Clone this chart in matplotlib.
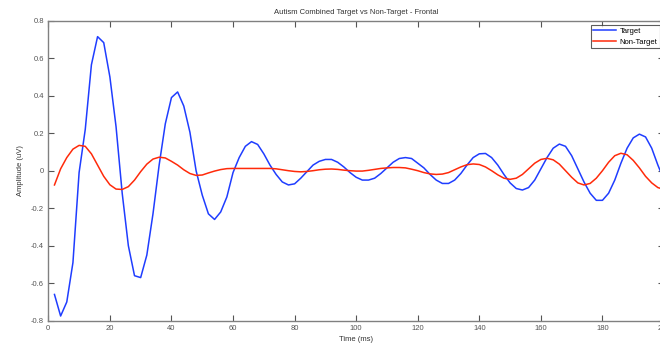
import matplotlib
matplotlib.use("Agg")
import matplotlib.pyplot as plt
from matplotlib.ticker import FuncFormatter

# time axis, one sample every 2 ms
time_ms = list(range(2, 202, 2))

target = [
    -0.66, -0.775, -0.70, -0.49, -0.01, 0.22, 0.565, 0.715, 0.683, 0.50,
    0.235, -0.12, -0.40, -0.56, -0.57, -0.45, -0.23, 0.03, 0.25, 0.39,
    0.42, 0.345, 0.205, 0.0, -0.13, -0.23, -0.26, -0.22, -0.14, -0.01,
    0.07, 0.13, 0.155, 0.14, 0.09, 0.03, -0.02, -0.06, -0.076, -0.07,
    -0.04, -0.005, 0.03, 0.05, 0.06, 0.06, 0.045, 0.02, -0.01, -0.035,
    -0.05, -0.05, -0.04, -0.015, 0.015, 0.045, 0.065, 0.07, 0.065, 0.04,
    0.015, -0.02, -0.05, -0.068, -0.068, -0.05, -0.015, 0.03, 0.07, 0.09,
    0.092, 0.07, 0.03, -0.02, -0.065, -0.095, -0.103, -0.09, -0.05, 0.01,
    0.07, 0.12, 0.142, 0.13, 0.08, 0.01, -0.06, -0.12, -0.158, -0.158,
    -0.12, -0.05, 0.04, 0.12, 0.175, 0.195, 0.18, 0.12, 0.03, -0.05,
]

non_target = [
    -0.076, 0.01, 0.07, 0.115, 0.135, 0.13, 0.09, 0.03, -0.03, -0.075,
    -0.098, -0.10, -0.085, -0.05, -0.005, 0.035, 0.062, 0.072, 0.068, 0.05,
    0.03, 0.005, -0.015, -0.025, -0.023, -0.012, -0.002, 0.006, 0.011, 0.012,
    0.012, 0.012, 0.012, 0.012, 0.012, 0.012, 0.01, 0.005, 0.0, -0.004,
    -0.006, -0.004, 0.0, 0.005, 0.008, 0.009, 0.007, 0.003, 0.0, -0.002,
    -0.002, 0.002, 0.007, 0.012, 0.015, 0.017, 0.017, 0.015, 0.008, 0.0,
    -0.01, -0.017, -0.02, -0.018, -0.01, 0.005, 0.02, 0.032, 0.036, 0.033,
    0.02, 0.0, -0.022, -0.04, -0.046, -0.04, -0.02, 0.01, 0.04, 0.06,
    0.066, 0.058, 0.035, 0.0, -0.035, -0.065, -0.076, -0.068, -0.04, 0.0,
    0.045, 0.08, 0.093, 0.085, 0.055, 0.015, -0.03, -0.065, -0.09, -0.10,
]

x_ticks = list(range(0, 201, 20))
y_ticks = [-0.8, -0.6, -0.4, -0.2, 0, 0.2, 0.4, 0.6, 0.8]

plt.rcParams['font.family'] = ['Liberation Sans', 'DejaVu Sans']
plt.rcParams['axes.unicode_minus'] = False

fs = 5.5
fig = plt.figure(figsize=(6.6, 3.46), dpi=100)
# the original screenshot cuts off the right end of the axes
ax = fig.add_axes([0.0732, 0.0731, 0.9329, 0.8671])

ax.plot(time_ms, target, color='#1f3dff', lw=1.1, label='Target')
ax.plot(time_ms, non_target, color='#ff2a0a', lw=1.1, label='Non-Target')

ax.set_xlim(0, 200)
ax.set_ylim(-0.8, 0.8)
ax.set_xticks(x_ticks)
ax.set_yticks(y_ticks)
ax.yaxis.set_major_formatter(FuncFormatter(lambda v, p: '%g' % round(v, 2)))

ax.tick_params(direction='in', length=4, width=0.8, colors='#555555',
               labelsize=fs, top=True, right=True, pad=3)
for s in ax.spines.values():
    s.set_color('#808080')
    s.set_linewidth(1.0)

ax.set_title('Autism Combined Target vs Non-Target - Frontal', fontsize=fs,
             color='#333333', pad=5)
ax.set_xlabel('Time (ms)', fontsize=fs, color='#333333', labelpad=3)
ax.set_ylabel('Amplitude (uV)', fontsize=fs, color='#333333', labelpad=5)

leg = ax.legend(loc='upper left', bbox_to_anchor=(590.7 / 660, 1 - 25 / 346),
                bbox_transform=fig.transFigure, fontsize=fs, frameon=True,
                fancybox=False, borderpad=0.35, handlelength=3.0,
                handletextpad=0.4, labelspacing=0.45, borderaxespad=0)
leg.get_frame().set_edgecolor('#333333')
leg.get_frame().set_linewidth(0.8)

fig.savefig('out.png', dpi=100)
